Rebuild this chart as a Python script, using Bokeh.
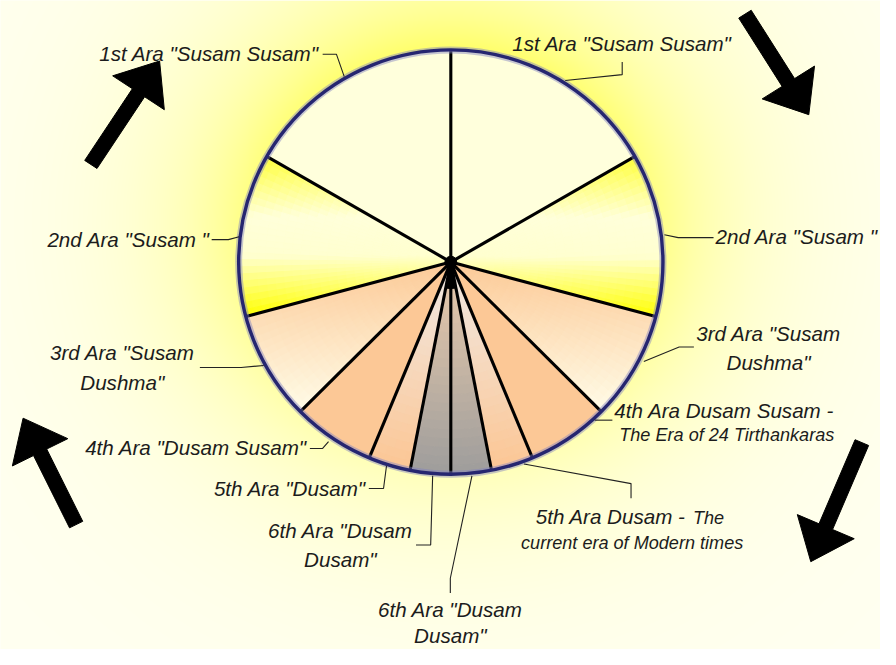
import numpy as np
from bokeh.plotting import figure
from bokeh.models import Range1d, ColumnDataSource
from bokeh.embed import file_html
from bokeh.resources import INLINE
from bokeh.core.properties import value

# ---------------- data ----------------
ara_names = ["1st Ara", "2nd Ara", "3rd Ara", "4th Ara", "5th Ara", "6th Ara"]
# angular share (degrees) of each Ara on one half of the wheel of time
ara_span_deg = [60.0, 45.0, 30.0, 22.5, 11.5, 11.0]

label_text = [
    '1st Ara "Susam Susam"',
    '1st Ara "Susam Susam"',
    '2nd Ara "Susam "',
    '2nd Ara "Susam "',
    '3rd Ara "Susam', 'Dushma"',
    '3rd Ara "Susam', 'Dushma"',
    '4th Ara Dusam Susam -', 'The Era of 24 Tirthankaras',
    '4th Ara "Dusam Susam"',
    '5th Ara "Dusam"',
    '6th Ara "Dusam', 'Dusam"',
    '5th Ara Dusam -', 'The', 'current era of Modern times',
    '6th Ara "Dusam', 'Dusam"',
]

# ---------------- layout / style ----------------
W, H = 896, 665
CX, CY, R = 458.5, 268.0, 216.0          # wheel centre / radius (image pixels)
FS = 0.98                                # figure / image scale

def Y(yref):
    return H - np.asarray(yref, dtype=float)

label_layout = [  # x, y (image px), align, size
    (324, 54.5, "right", 21), (521, 44.5, "left", 21),
    (213, 244.5, "right", 21), (728, 242, "left", 21),
    (124, 361, "center", 21), (124, 391, "center", 21),
    (782, 341, "center", 21), (782, 371, "center", 21),
    (625, 420, "left", 21), (630, 445, "left", 18.5),
    (312, 458.5, "right", 21),
    (372, 500, "right", 21),
    (346, 543, "center", 21), (346, 573, "center", 21),
    (545, 529, "left", 21), (705, 530, "left", 18.5), (530, 556, "left", 18.5),
    (458, 624, "center", 21), (458, 651, "center", 21),
]

leaders = [
    [(328, 55), (342, 55), (350, 78)],
    [(633, 63), (633, 76), (575, 82)],
    [(215, 245), (232, 245), (243, 242)],
    [(676, 240), (690, 243), (726, 243)],
    [(203, 376), (245, 376), (268, 374)],
    [(655, 370), (691, 355), (706, 355)],
    [(605, 430), (623, 430)],
    [(315, 459), (328, 459), (334, 452)],
    [(375, 500), (390, 500), (393, 477)],
    [(423, 558), (438, 558), (440, 487)],
    [(533, 475), (642, 495), (642, 510)],
    [(480, 487), (458, 592), (458, 607)],
]

arrows = [  # tail, tip (image px)
    ((92, 168), (162, 62)),
    ((758, 14), (823, 117)),
    ((877, 453), (825, 575)),
    ((77, 537), (23, 428)),
]

ara_fill = [
    [(0.0, (255, 255, 220)), (1.0, (255, 255, 220))],
    [(0.0, (255, 255, 60)), (0.38, (255, 255, 218)), (0.62, (255, 255, 208)), (1.0, (255, 255, 0))],
    [(0.0, (252, 202, 152)), (1.0, (255, 252, 232))],
    [(0.0, (252, 200, 150)), (1.0, (252, 200, 150))],
    [(0.0, (240, 234, 230)), (1.0, (252, 198, 148))],
    [(0.0, (236, 204, 172)), (1.0, (158, 157, 156))],
]

def interp(stops, t):
    t = min(max(t, 0.0), 1.0)
    for (t0, c0), (t1, c1) in zip(stops[:-1], stops[1:]):
        if t <= t1:
            f = 0 if t1 == t0 else (t - t0) / (t1 - t0)
            return "#%02x%02x%02x" % tuple(int(round(a + (b - a) * f)) for a, b in zip(c0, c1))
    return "#%02x%02x%02x" % stops[-1][1]

p = figure(width=880, height=649, x_range=Range1d(0, W), y_range=Range1d(0, H),
           min_border=0, toolbar_location=None, output_backend="svg",
           x_axis_type=None, y_axis_type=None)
p.grid.visible = False
p.outline_line_color = None
p.background_fill_color = "#fffff0"
p.border_fill_color = "#fffff0"

# ---- background glow ----
xs = np.arange(W) + 0.5
ys = H - (np.arange(H) + 0.5)
XX, YY = np.meshgrid(xs, ys)
dx, dy = XX - CX, CY - YY
d = np.sqrt(dx ** 2 + dy ** 2) - R
th = np.arctan2(dy, dx)
g = np.exp(-np.clip(d, 0, None) / 95.0) * (0.7 + 0.3 * np.sin(th))
img = np.zeros((H, W), dtype=np.uint32)
view = img.view(dtype=np.uint8).reshape((H, W, 4))
view[..., 0] = 255
view[..., 1] = 255
view[..., 2] = np.clip(242 - g * 140, 0, 255).astype(np.uint8)
view[..., 3] = 255
p.image_rgba(image=[img], x=0, y=0, dw=W, dh=H)

# ---- wheel sectors ----
cum = np.concatenate([[0.0], np.cumsum(ara_span_deg)])
solid = dict(x=[], y=[], r=[], a0=[], a1=[], c=[])
pieces = dict(x=[], y=[], ri=[], ro=[], a0=[], a1=[], c=[])
n_rings = 24
for side in (-1, 1):
    for i, name in enumerate(ara_names):
        a_lo, a_hi = sorted([90 + side * cum[i], 90 + side * cum[i + 1]])
        stops = ara_fill[i]
        if stops[0][1] == stops[-1][1] and len(stops) == 2:
            solid["x"].append(CX); solid["y"].append(float(Y(CY)))
            solid["r"].append(R); solid["a0"].append(np.radians(a_lo)); solid["a1"].append(np.radians(a_hi))
            solid["c"].append(interp(stops, 0))
            continue
        arc = np.radians(np.linspace(a_lo, a_hi, 200))
        yr = np.concatenate([[CY], CY - R * np.sin(arc)])
        ytop, ybot = yr.min(), yr.max()
        n_ang = max(4, int(np.ceil((a_hi - a_lo) / 2.0)))
        angs = np.linspace(a_lo, a_hi, n_ang + 1)
        rads = np.linspace(0, R, n_rings + 1)
        for k in range(n_ang):
            for j in range(n_rings):
                am = np.radians(0.5 * (angs[k] + angs[k + 1]))
                rm = 0.5 * (rads[j] + rads[j + 1])
                yc = CY - rm * np.sin(am)
                t = (yc - ytop) / (ybot - ytop)
                pieces["x"].append(CX); pieces["y"].append(float(Y(CY)))
                pieces["ri"].append(rads[j]); pieces["ro"].append(rads[j + 1])
                pieces["a0"].append(np.radians(angs[k])); pieces["a1"].append(np.radians(angs[k + 1]))
                pieces["c"].append(interp(stops, t))

p.wedge(x="x", y="y", radius="r", start_angle="a0", end_angle="a1", fill_color="c",
        line_color="c", line_width=1, source=ColumnDataSource(solid))
p.annular_wedge(x="x", y="y", inner_radius="ri", outer_radius="ro", start_angle="a0",
                end_angle="a1", fill_color="c", line_color="c", line_width=1.0,
                source=ColumnDataSource(pieces))

# ---- sector boundary spokes ----
bnd = sorted(set([90 - c for c in cum] + [90 + c for c in cum[1:-1]]))
ba = np.radians(bnd)
p.segment(x0=[CX] * len(ba), y0=[float(Y(CY))] * len(ba),
          x1=list(CX + R * np.cos(ba)), y1=list(Y(CY) + R * np.sin(ba)),
          line_color="black", line_width=3.1)
p.wedge(x=[CX], y=[float(Y(CY))], radius=[27], start_angle=[np.radians(-101)],
        end_angle=[np.radians(-79)], fill_color="black", line_color="black")
p.circle(x=[CX], y=[float(Y(CY))], radius=[6], fill_color="black", line_color="black")

# ---- rim ----
p.circle(x=[CX], y=[float(Y(CY))], radius=[R], fill_color=None, line_color="#8080c0",
         line_width=7, line_alpha=0.45)
p.circle(x=[CX], y=[float(Y(CY))], radius=[R], fill_color=None, line_color="#262670",
         line_width=3.4)

# ---- arrows ----
axs, ays = [], []
for (tx, ty), (hx, hy) in arrows:
    tail = np.array([tx, ty], float); tip = np.array([hx, hy], float)
    u = (tip - tail) / np.linalg.norm(tip - tail)
    n = np.array([-u[1], u[0]])
    base = tip - u * 39
    sw, hw = 7.5, 31.5
    pts = [tail + n * sw, base + n * sw, base + n * hw, tip, base - n * hw, base - n * sw, tail - n * sw]
    axs.append([q[0] for q in pts]); ays.append(list(Y([q[1] for q in pts])))
p.patches(xs=axs, ys=ays, fill_color="black", line_color="black", line_width=1)

# ---- leader lines ----
p.multi_line(xs=[[q[0] for q in L] for L in leaders], ys=[list(Y([q[1] for q in L])) for L in leaders],
             line_color="#222222", line_width=1.1)

# ---- labels ----
groups = {}
for txt, (x, y, al, sz) in zip(label_text, label_layout):
    groups.setdefault((al, sz), dict(x=[], y=[], t=[]))
    g_ = groups[(al, sz)]
    g_["x"].append(x); g_["y"].append(float(Y(y))); g_["t"].append(txt)
for (al, sz), g_ in groups.items():
    p.text(x=g_["x"], y=g_["y"], text=g_["t"], text_font=value("Liberation Sans"),
           text_font_style="italic", text_font_size="%.1fpx" % (sz * FS), text_align=al,
           text_baseline="middle", text_color="#1c1c1c")

open("out.html", "w").write(file_html(p, INLINE))
